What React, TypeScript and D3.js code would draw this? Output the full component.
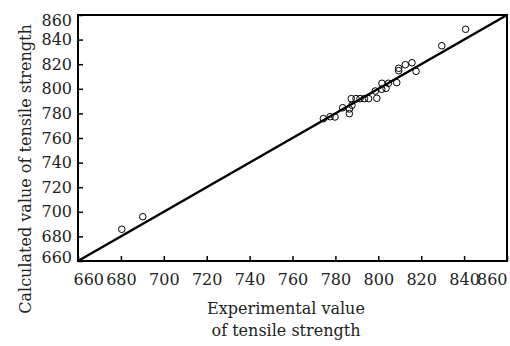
import React, { useRef, useEffect } from "react";
import * as d3 from "d3";

// experimental (x) vs calculated (y) tensile strength
const experimental = [
  680.4, 690.2, 774.4, 777.5, 779.8, 783.4, 786.5, 786.5, 787.7, 787.4,
  789.6, 791.5, 793.5, 795.5, 799.3, 798.6, 801.6, 803.6, 801.7, 804.7,
  808.6, 809.5, 809.5, 812.6, 815.7, 817.6, 829.6, 840.7,
];
const calculated = [
  685.8, 696.0, 775.7, 777.3, 777.1, 784.6, 783.6, 779.8, 786.6, 792.0,
  792.0, 792.0, 792.0, 792.0, 792.3, 798.2, 799.6, 800.4, 804.5, 804.5,
  805.0, 816.7, 814.7, 819.6, 821.2, 814.2, 835.0, 848.4,
];
const tickValues = [660, 680, 700, 720, 740, 760, 780, 800, 820, 840, 860];
const domain = [660, 860];

const width = 510;
const height = 346;
const margin = { top: 15, right: 3, bottom: 85, left: 78 };
const font = "'DejaVu Serif', serif";

const App = () => {
  const ref = useRef<SVGSVGElement>(null);

  useEffect(() => {
    const svg = d3.select(ref.current);
    svg.selectAll("*").remove();

    const x = d3
      .scaleLinear()
      .domain(domain)
      .range([margin.left, width - margin.right]);
    const y = d3
      .scaleLinear()
      .domain(domain)
      .range([height - margin.bottom, margin.top]);

    // frame
    svg
      .append("rect")
      .attr("x", x(660))
      .attr("y", y(860))
      .attr("width", x(860) - x(660))
      .attr("height", y(660) - y(860))
      .attr("fill", "none")
      .attr("stroke", "#000")
      .attr("stroke-width", 2);

    const xAxis = svg
      .append("g")
      .attr("transform", `translate(0,${y(660)})`)
      .call(d3.axisBottom(x).tickValues(tickValues).tickSizeInner(-5).tickSizeOuter(0).tickPadding(13));
    const yAxis = svg
      .append("g")
      .attr("transform", `translate(${x(660)},0)`)
      .call(d3.axisLeft(y).tickValues(tickValues).tickSizeInner(-5).tickSizeOuter(0).tickPadding(6));

    [xAxis, yAxis].forEach((g) => {
      g.select(".domain").remove();
      g.selectAll(".tick line").attr("stroke", "#000").attr("stroke-width", 1.5);
      g.selectAll("text")
        .attr("font-family", font)
        .attr("font-size", 16)
        .attr("fill", "#222");
    });
    // end labels pulled inward like the original
    xAxis.selectAll<SVGTextElement, number>("text")
      .filter((d) => d === 660)
      .attr("text-anchor", "start")
      .attr("x", -5);
    xAxis.selectAll<SVGTextElement, number>("text")
      .filter((d) => d === 860)
      .attr("text-anchor", "end");
    yAxis.selectAll<SVGTextElement, number>("text")
      .filter((d) => d === 860)
      .attr("dy", "0.68em");
    yAxis.selectAll<SVGTextElement, number>("text")
      .filter((d) => d === 660)
      .attr("dy", "0.1em");

    // y = x line
    svg
      .append("line")
      .attr("x1", x(660))
      .attr("y1", y(660))
      .attr("x2", x(860))
      .attr("y2", y(860))
      .attr("stroke", "#000")
      .attr("stroke-width", 2.5);

    svg
      .append("g")
      .selectAll("circle")
      .data(experimental.map((e, i) => [e, calculated[i]]))
      .enter()
      .append("circle")
      .attr("cx", (d) => x(d[0]))
      .attr("cy", (d) => y(d[1]))
      .attr("r", 3.3)
      .attr("fill", "none")
      .attr("stroke", "#000")
      .attr("stroke-width", 1);

    // axis titles
    const xt = svg
      .append("text")
      .attr("text-anchor", "middle")
      .attr("font-family", font)
      .attr("font-size", 16)
      .attr("fill", "#222");
    xt.append("tspan").attr("x", 286).attr("y", 314).text("Experimental value");
    xt.append("tspan").attr("x", 286).attr("y", 336).text("of tensile strength");

    svg
      .append("text")
      .attr("transform", `translate(31,169) rotate(-90)`)
      .attr("text-anchor", "middle")
      .attr("font-family", font)
      .attr("font-size", 16)
      .attr("fill", "#222")
      .text("Calculated value of tensile strength");
  }, []);

  return (
    <div style={{ position: "absolute", left: 0, top: 0 }}>
      <svg ref={ref} width={width} height={height} style={{ display: "block", background: "#fff" }}></svg>
    </div>
  );
};

export default App;
